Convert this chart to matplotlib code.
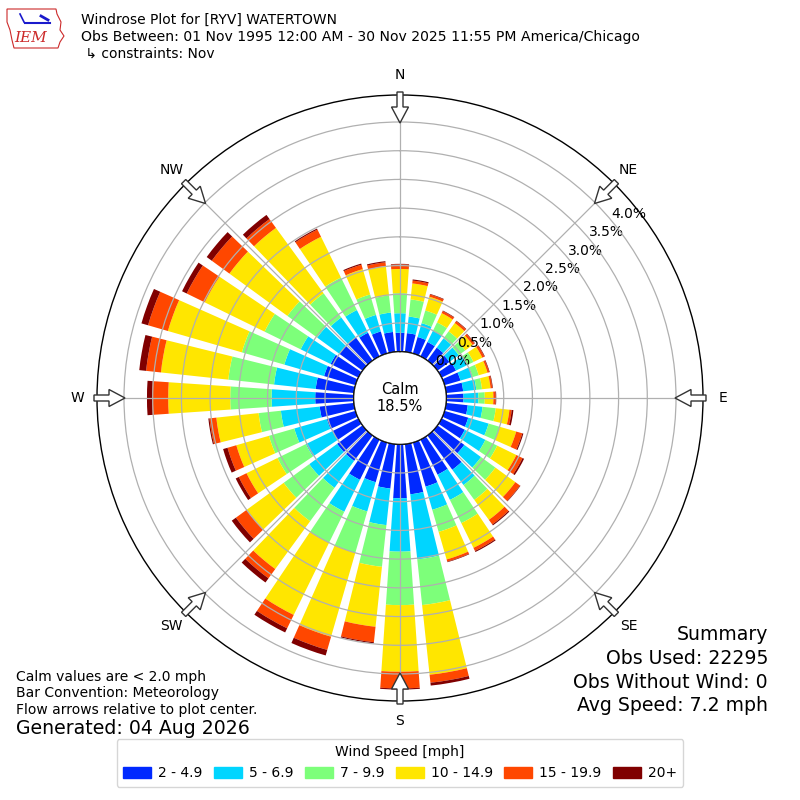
import numpy as np
import matplotlib
matplotlib.use("Agg")
import matplotlib.pyplot as plt
from matplotlib.patches import Circle, FancyArrow, Polygon, Rectangle

# wind direction bins (deg, meteorological) and frequency (%) per speed band
directions = np.arange(0, 360, 10)
speed_bins = ["2 - 4.9", "5 - 6.9", "7 - 9.9", "10 - 14.9", "15 - 19.9", "20+"]

band_2_5 = [0.33, 0.33, 0.30, 0.28, 0.28, 0.26, 0.28, 0.29, 0.30, 0.30, 0.38, 0.43,
            0.45, 0.58, 0.74, 0.68, 0.80, 0.88, 0.94, 0.78, 0.72, 0.78, 0.55, 0.55,
            0.50, 0.52, 0.60, 0.67, 0.67, 0.57, 0.54, 0.50, 0.50, 0.46, 0.40, 0.35]
band_5_7 = [0.34, 0.29, 0.25, 0.22, 0.20, 0.20, 0.22, 0.22, 0.23, 0.26, 0.26, 0.37,
            0.40, 0.36, 0.33, 0.49, 0.42, 1.14, 0.93, 0.64, 0.53, 0.62, 0.58, 0.60,
            0.52, 0.59, 0.68, 0.76, 0.73, 0.72, 0.58, 0.48, 0.43, 0.44, 0.30, 0.34]
band_7_10 = [0.35, 0.30, 0.23, 0.16, 0.15, 0.14, 0.12, 0.11, 0.10, 0.11, 0.23, 0.20,
             0.23, 0.31, 0.32, 0.45, 0.40, 0.80, 0.93, 0.73, 0.75, 0.60, 0.72, 0.55,
             0.55, 0.46, 0.39, 0.72, 0.80, 0.77, 0.70, 0.64, 0.52, 0.63, 0.37, 0.30]
band_10_15 = [0.42, 0.28, 0.25, 0.18, 0.18, 0.16, 0.17, 0.16, 0.15, 0.15, 0.24, 0.30,
              0.37, 0.43, 0.43, 0.48, 0.50, 1.22, 1.16, 1.05, 1.52, 1.40, 1.03, 0.80,
              0.60, 0.59, 0.74, 1.08, 1.18, 1.34, 1.16, 1.25, 1.41, 0.79, 0.46, 0.51]
band_15_20 = [0.08, 0.05, 0.04, 0.04, 0.04, 0.04, 0.04, 0.03, 0.03, 0.04, 0.04, 0.11,
              0.12, 0.10, 0.10, 0.06, 0.04, 0.14, 0.29, 0.27, 0.24, 0.26, 0.20, 0.23,
              0.15, 0.16, 0.12, 0.28, 0.26, 0.36, 0.35, 0.38, 0.19, 0.14, 0.08, 0.07]
band_20p = [0.01, 0.02, 0.01, 0.01, 0.01, 0.01, 0.01, 0.01, 0.01, 0.01, 0.03, 0.02,
            0.03, 0.01, 0.02, 0.02, 0.01, 0.05, 0.02, 0.02, 0.10, 0.08, 0.09, 0.09,
            0.06, 0.08, 0.02, 0.09, 0.12, 0.12, 0.09, 0.11, 0.09, 0.02, 0.02, 0.02]

rtick_values = [0.0, 0.5, 1.0, 1.5, 2.0, 2.5, 3.0, 3.5, 4.0]
compass = ["N", "NE", "E", "SE", "S", "SW", "W", "NW"]
calm_pct = 18.5
obs_used = 22295
obs_nowind = 0
avg_speed = 7.2

bands = [band_2_5, band_5_7, band_7_10, band_10_15, band_15_20, band_20p]
colors = plt.cm.jet(np.arange(1, 7) / 6.0)

fig = plt.figure(figsize=(8, 8), dpi=100)
R = 303.0  # polar radius in px
ax = fig.add_axes([(400 - R) / 800, (800 - 398 - R) / 800, 2 * R / 800, 2 * R / 800],
                  projection="polar")
ax.set_theta_zero_location("N")
ax.set_theta_direction(-1)

theta = np.deg2rad(directions)
width = np.deg2rad(7.8)
bottom = np.zeros(len(directions))
for vals, c, lab in zip(bands, colors, speed_bins):
    vals = np.array(vals)
    ax.bar(theta, vals, width=width, bottom=bottom, color=c, edgecolor="none",
           label=lab, zorder=1)
    bottom = bottom + vals

rmax = 4.47
ax.set_rorigin(-0.806)
ax.set_ylim(0, rmax)
ax.set_rgrids(rtick_values, labels=[f"{v:.1f}%" for v in rtick_values], angle=50,
              fontsize=10)
ax.set_thetagrids(range(0, 360, 45), labels=[""] * 8)
ax.grid(color="#b0b0b0", linewidth=0.9)
ax.spines["polar"].set_linewidth(1.0)

# calm circle
ax.add_patch(Circle((0.5, 0.5), 46.3 / (2 * R), transform=ax.transAxes,
                    facecolor="white", edgecolor="black", lw=1.0, zorder=3))
ax.text(0.5, 0.5, f"Calm\n{calm_pct}%", transform=ax.transAxes, ha="center",
        va="center", fontsize=10.5, zorder=4)

# compass labels and flow arrows (figure coords)
cx, cy = 0.5, 1 - 398 / 800
for i, name in enumerate(compass):
    a = np.deg2rad(i * 45)
    ux, uy = np.sin(a), np.cos(a)
    fig.text(cx + 323 * ux / 800, cy + 323 * uy / 800, name, ha="center",
             va="center", fontsize=10)
    r0, r1 = 306, 275
    arr = FancyArrow(cx + r0 * ux / 800, cy + r0 * uy / 800,
                     (r1 - r0) * ux / 800, (r1 - r0) * uy / 800,
                     width=6 / 800, head_width=17 / 800, head_length=16 / 800,
                     length_includes_head=True, transform=fig.transFigure,
                     facecolor="white", edgecolor="#333333", lw=1.0, zorder=10)
    fig.add_artist(arr)

# titles
fig.text(81 / 800, 1 - 20 / 800, "Windrose Plot for [RYV] WATERTOWN", fontsize=10,
         va="center")
fig.text(81 / 800, 1 - 37 / 800,
         "Obs Between: 01 Nov 1995 12:00 AM - 30 Nov 2025 11:55 PM America/Chicago",
         fontsize=10.1, va="center")
fig.text(81 / 800, 1 - 54 / 800, " \u21b3 constraints: Nov", fontsize=10, va="center")

# simple IEM logo
iowa = np.array([[7, 9], [56, 9], [57, 14], [61, 22], [60, 30], [64, 36], [60, 42],
                 [58, 48], [14, 48], [12, 40], [10, 30], [7, 22]])
fig.add_artist(Polygon(np.column_stack([iowa[:, 0] / 800, 1 - iowa[:, 1] / 800]),
                       closed=True, fill=False, edgecolor="#cc2a2a", lw=0.8,
                       transform=fig.transFigure))
fig.add_artist(plt.Line2D([25 / 800, 50 / 800], [1 - 23 / 800, 1 - 23 / 800],
                          color="#1a1acc", lw=1.5, transform=fig.transFigure))
fig.add_artist(plt.Line2D([20 / 800, 24 / 800], [1 - 14 / 800, 1 - 22 / 800],
                          color="#1a1acc", lw=1.2, transform=fig.transFigure))
fig.add_artist(plt.Line2D([41 / 800, 48 / 800], [1 - 16 / 800, 1 - 20 / 800],
                          color="#1a1acc", lw=2.0, transform=fig.transFigure))
fig.text(31 / 800, 1 - 38 / 800, "IEM", color="#cc2a2a", fontsize=11,
         fontstyle="italic", family="DejaVu Serif", ha="center", va="center")

# notes
fig.text(16 / 800, 1 - 677 / 800, "Calm values are < 2.0 mph", fontsize=10, va="center")
fig.text(16 / 800, 1 - 693 / 800, "Bar Convention: Meteorology", fontsize=10, va="center")
fig.text(16 / 800, 1 - 710 / 800, "Flow arrows relative to plot center.", fontsize=10,
         va="center")
fig.text(16 / 800, 1 - 729 / 800, "Generated: 04 Aug 2026", fontsize=13.6, va="center")

summary = ["Summary", f"Obs Used: {obs_used}", f"Obs Without Wind: {obs_nowind}",
           f"Avg Speed: {avg_speed} mph"]
for k, line in enumerate(summary):
    fig.text(768 / 800, 1 - (635 + 23.5 * k) / 800, line, fontsize=13.6, ha="right",
             va="center")

leg_handles = [Rectangle((0, 0), 1, 1, color=c) for c in colors]
fig.legend(leg_handles, speed_bins, loc="lower center", bbox_to_anchor=(0.5, 0.008),
           ncol=6, title="Wind Speed [mph]", fontsize=10, title_fontsize=10,
           handlelength=2.0, handleheight=0.75, handletextpad=0.5,
           columnspacing=0.85, borderpad=0.45)

fig.savefig("out.png", dpi=100)
